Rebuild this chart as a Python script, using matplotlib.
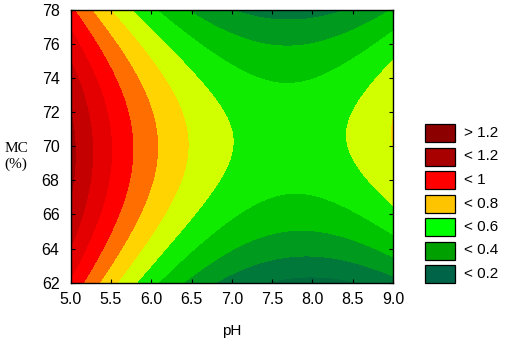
import numpy as np
import matplotlib
matplotlib.use("Agg")
from matplotlib import pyplot as plt
from matplotlib.patches import Rectangle

plt.rcParams['font.family'] = ['Liberation Sans', 'DejaVu Sans']

# fitted response surface (polynomial model in pH and MC)
intercept = 0.555
ph_centre = 7.72
mc_centre = 70.45
coef_ph2 = 0.0905
coef_mc2 = -0.0053
coef_ph_mc = 0.0029
coef_ph_mc2 = 0.00036

ph_range = [5.0, 9.0]
mc_range = [62.0, 78.0]

# contour levels and fill colours
levels = [0.0, 0.2, 0.3, 0.4, 0.5, 0.6, 0.7, 0.8, 0.9, 1.0, 1.1, 1.2, 1.3, 3.0]
band_colors = ['#006a3c', '#00783a', '#009a1e', '#00c400', '#10ec00',
               '#d2ff00', '#ffd400', '#ff6e00', '#ff0000', '#e40000',
               '#c40000', '#a00000', '#780000']

legend_labels = ['> 1.2', '< 1.2', '< 1', '< 0.8', '< 0.6', '< 0.4', '< 0.2']
legend_colors = ['#8c0000', '#a80000', '#ff0000', '#ffc400', '#00ff00',
                 '#00a000', '#006448']

xticks = [5.0, 5.5, 6.0, 6.5, 7.0, 7.5, 8.0, 8.5, 9.0]
yticks = [62, 64, 66, 68, 70, 72, 74, 76, 78]

ph = np.linspace(ph_range[0], ph_range[1], 400)
mc = np.linspace(mc_range[0], mc_range[1], 400)
P, M = np.meshgrid(ph, mc)
dp = P - ph_centre
dm = M - mc_centre
Z = (intercept + coef_ph2 * dp**2 + coef_mc2 * dm**2 + coef_ph_mc * dp * dm
     - coef_ph_mc2 * dp * dm**2)

fig = plt.figure(figsize=(5.05, 3.48), dpi=100)
ax = fig.add_axes([0.140, 0.1876, 0.638, 0.7851])
ax.contourf(P, M, Z, levels=levels, colors=band_colors)

ax.set_xlim(ph_range)
ax.set_ylim(mc_range)
ax.set_xticks(xticks)
ax.set_xticklabels(['%.1f' % t for t in xticks])
ax.set_yticks(yticks)
ax.tick_params(direction='in', length=3, width=0.8, top=True, right=True,
               labelsize=11.5, pad=8)
ax.tick_params(axis='x', pad=7)
for s in ax.spines.values():
    s.set_linewidth(1.0)

ax.set_xlabel('pH', fontsize=11, labelpad=12)
fig.text(0.032, 0.55, 'MC\n(%)', fontsize=11, family='Liberation Serif',
         ha='center', va='center', linespacing=1.25)

# legend boxes
for i, (lab, col) in enumerate(zip(legend_labels, legend_colors)):
    yc = 348 - (133 + 23.5 * i)
    fig.add_artist(Rectangle((425 / 505, (yc - 9) / 348), 30 / 505, 18 / 348,
                             facecolor=col, edgecolor='black', linewidth=0.9,
                             transform=fig.transFigure))
    fig.text(464 / 505, yc / 348, lab, fontsize=11, va='center', ha='left')

fig.savefig('out.png', dpi=100)
